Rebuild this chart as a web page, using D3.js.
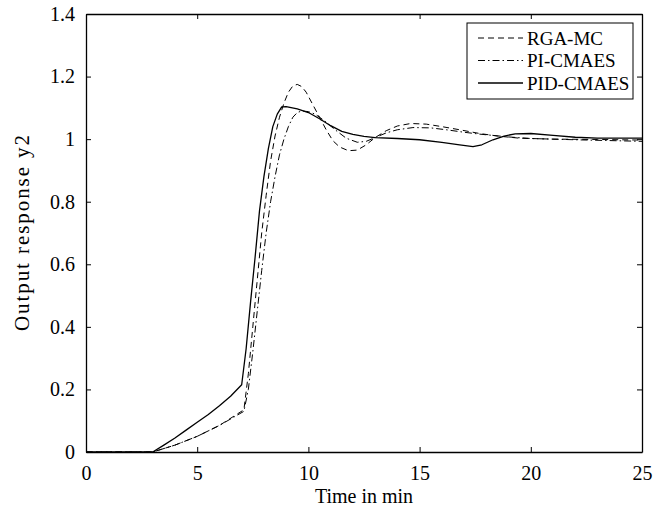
<!DOCTYPE html>
<html>
<head>
<meta charset="utf-8">
<script src="https://cdn.jsdelivr.net/npm/d3@7"></script>
<style>
  body { margin: 0; background: #fff; }
  svg { display: block; }
  text { font-family: "Liberation Serif", "Times New Roman", serif; fill: #000; }
</style>
</head>
<body>
<div id="chart"></div>
<script>
// series (time in min, output y2)
const rgaTime = [0, 3, 4, 5, 6, 7.1, 7.3, 7.5, 7.7, 7.9, 8.1, 8.3, 8.5, 8.7, 8.9, 9.1, 9.3, 9.5, 9.7, 9.9, 10.2, 10.5, 10.8, 11.1, 11.4, 11.8, 12.2, 12.6, 13, 13.5, 14, 14.6, 15.3, 16, 16.8, 17.7, 18.5, 19.5, 21, 23, 25];
const rgaValues = [0, 0, 0.022, 0.05, 0.085, 0.135, 0.25, 0.4, 0.55, 0.7, 0.82, 0.93, 1.01, 1.07, 1.115, 1.15, 1.17, 1.175, 1.168, 1.15, 1.11, 1.07, 1.03, 0.995, 0.975, 0.963, 0.965, 0.982, 1.005, 1.027, 1.042, 1.05, 1.048, 1.04, 1.03, 1.018, 1.01, 1.003, 1.0, 0.999, 0.997];

const piTime = [0, 3, 4, 5, 6, 7.1, 7.3, 7.5, 7.7, 7.9, 8.1, 8.3, 8.5, 8.7, 8.9, 9.1, 9.3, 9.5, 9.7, 10, 10.3, 10.7, 11.2, 11.7, 12.2, 12.6, 13, 13.5, 14, 14.7, 15.5, 16.2, 17, 17.7, 19, 20, 22, 25];
const piValues = [0, 0, 0.022, 0.05, 0.085, 0.13, 0.2, 0.32, 0.45, 0.58, 0.7, 0.8, 0.88, 0.95, 1.0, 1.04, 1.07, 1.085, 1.09, 1.088, 1.08, 1.06, 1.03, 1.003, 0.99, 0.993, 1.005, 1.02, 1.03, 1.037, 1.036, 1.03, 1.022, 1.016, 1.007, 1.002, 0.998, 0.993];

const pidTime = [0, 3, 3.5, 4, 4.5, 5, 5.5, 6, 6.5, 7, 7.2, 7.4, 7.6, 7.8, 8, 8.2, 8.4, 8.6, 8.8, 9, 9.5, 10, 10.5, 11, 11.5, 12, 12.5, 13, 14, 15, 16, 16.8, 17.4, 17.8, 18.3, 18.8, 19.3, 20, 21, 22, 23, 25];
const pidValues = [0, 0, 0.022, 0.045, 0.07, 0.095, 0.12, 0.148, 0.178, 0.215, 0.33, 0.48, 0.62, 0.77, 0.88, 0.97, 1.04, 1.08, 1.103, 1.104, 1.097, 1.085, 1.065, 1.043, 1.025, 1.015, 1.009, 1.005, 1.002, 0.998, 0.99, 0.982, 0.976, 0.982, 0.998, 1.01, 1.017, 1.018, 1.012, 1.006, 1.003, 1.003];

const seriesNames = ['RGA-MC', 'PI-CMAES', 'PID-CMAES'];
const xTicks = [0, 5, 10, 15, 20, 25];
const yTicks = [0, 0.2, 0.4, 0.6, 0.8, 1, 1.2, 1.4];

const series = [
  { name: seriesNames[0], t: rgaTime, v: rgaValues, dash: '6,4', width: 1 },
  { name: seriesNames[1], t: piTime, v: piValues, dash: '7,3,1.5,3', width: 1 },
  { name: seriesNames[2], t: pidTime, v: pidValues, dash: null, width: 1.3 }
];

const W = 664, H = 513;
const margin = { top: 14, right: 22, bottom: 61, left: 86 };
const fontSize = '20px';

const svg = d3.select('#chart').append('svg')
  .attr('width', W)
  .attr('height', H);

const x = d3.scaleLinear().domain([0, 25]).range([margin.left, W - margin.right]);
const y = d3.scaleLinear().domain([0, 1.4]).range([H - margin.bottom, margin.top]);

const fmt = d => d3.format('~g')(d);

// curves (sampled data, joined straight like the matlab plot)
const line = d3.line()
  .x(d => x(d[0]))
  .y(d => y(d[1]));

series.forEach(s => {
  svg.append('path')
    .datum(s.t.map((t, i) => [t, s.v[i]]))
    .attr('fill', 'none')
    .attr('stroke', '#000')
    .attr('stroke-width', s.width)
    .attr('stroke-linejoin', 'round')
    .attr('stroke-dasharray', s.dash)
    .attr('d', line);
});

// axes, ticks point inward like matlab
const tickLen = 5;
svg.append('g')
  .attr('transform', `translate(0,${y(0)})`)
  .call(d3.axisBottom(x).tickValues(xTicks).tickFormat(fmt).tickSizeInner(-tickLen).tickSizeOuter(0).tickPadding(14));
svg.append('g')
  .attr('transform', `translate(0,${y(1.4)})`)
  .call(d3.axisTop(x).tickValues(xTicks).tickFormat('').tickSizeInner(-tickLen).tickSizeOuter(0));
svg.append('g')
  .attr('transform', `translate(${x(0)},0)`)
  .call(d3.axisLeft(y).tickValues(yTicks).tickFormat(fmt).tickSizeInner(-tickLen).tickSizeOuter(0).tickPadding(11));
svg.append('g')
  .attr('transform', `translate(${x(25)},0)`)
  .call(d3.axisRight(y).tickValues(yTicks).tickFormat('').tickSizeInner(-tickLen).tickSizeOuter(0));

svg.selectAll('.domain').attr('stroke', '#000').attr('stroke-width', 1.3);
svg.selectAll('.tick line').attr('stroke', '#000');
svg.selectAll('.tick text')
  .style('font-family', '"Liberation Serif", serif')
  .style('font-size', fontSize)
  .attr('fill', '#000');

// axis labels
svg.append('text')
  .attr('x', (x(0) + x(25)) / 2)
  .attr('y', 503)
  .attr('text-anchor', 'middle')
  .style('font-size', fontSize)
  .text('Time in min');

svg.append('text')
  .attr('transform', `translate(29,${(y(0) + y(1.4)) / 2}) rotate(-90)`)
  .attr('text-anchor', 'middle')
  .attr('textLength', 196)
  .attr('lengthAdjust', 'spacing')
  .style('font-size', '21px')
  .text('Output response y2');

// legend
const legend = svg.append('g');
legend.append('rect')
  .attr('x', 467).attr('y', 23)
  .attr('width', 166).attr('height', 76)
  .attr('fill', '#fff')
  .attr('stroke', '#000')
  .attr('stroke-width', 1);

series.forEach((s, i) => {
  const ly = 38 + i * 22.5;
  legend.append('line')
    .attr('x1', 478).attr('x2', 523)
    .attr('y1', ly).attr('y2', ly)
    .attr('stroke', '#000')
    .attr('stroke-width', s.width)
    .attr('stroke-dasharray', s.dash);
  legend.append('text')
    .attr('x', 527)
    .attr('y', ly)
    .attr('dy', '0.35em')
    .style('font-size', '19px')
    .text(s.name);
});
</script>
</body>
</html>
